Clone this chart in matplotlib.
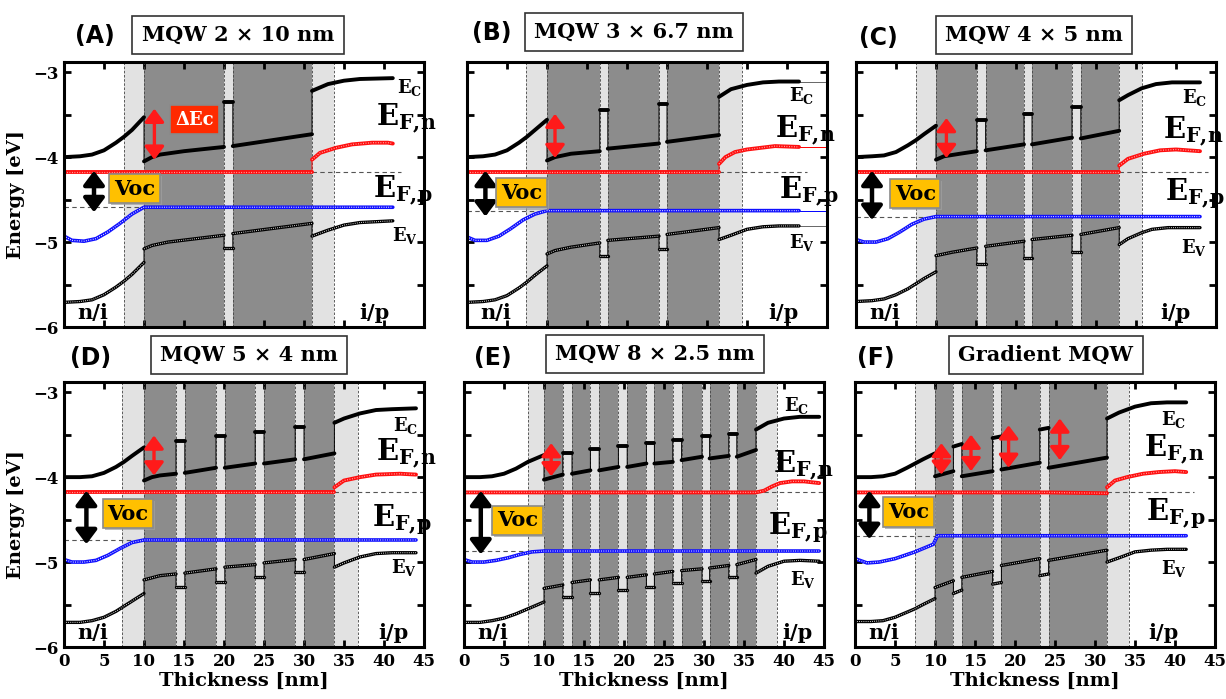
import matplotlib
matplotlib.use("Agg")
import matplotlib.pyplot as plt
from matplotlib.ticker import MultipleLocator

plt.rcParams['font.family'] = ['DejaVu Serif']
plt.rcParams['mathtext.fontset'] = 'dejavuserif'
plt.rcParams['font.weight'] = 'bold'

# ---------------- data (x in nm, E in eV) ----------------
letters = ["(A)", "(B)", "(C)", "(D)", "(E)", "(F)"]
titles = ["MQW 2 × 10 nm", "MQW 3 × 6.7 nm", "MQW 4 × 5 nm",
          "MQW 5 × 4 nm", "MQW 8 × 2.5 nm", "Gradient MQW"]

# (A) 2 x 10 nm
A_span = (7.5, 33.75)
A_wells = [(10.0, 20.0), (21.1, 31.0)]
A_ec = [(0, -4.00), (2, -3.99), (3.5, -3.97), (5, -3.92), (6.5, -3.83), (7.5, -3.76), (8.5, -3.68), (10, -3.53),
        (10, -4.05), (11, -4.00), (12, -3.97), (15, -3.93), (20, -3.88),
        (20, -3.35), (21.1, -3.35),
        (21.1, -3.87), (31, -3.73),
        (31, -3.22), (33, -3.14), (35, -3.10), (37, -3.08), (41.1, -3.07)]
A_ev = [(0, -5.71), (2, -5.70), (3.5, -5.68), (5, -5.62), (6.5, -5.53), (7.5, -5.46), (8.5, -5.38), (10, -5.24),
        (10, -5.08), (11, -5.04), (13, -5.00), (20, -4.92),
        (20, -5.07), (21.1, -5.07),
        (21.1, -4.90), (31, -4.78),
        (31, -4.93), (33, -4.86), (35, -4.80), (37, -4.77), (41.1, -4.75)]
A_efn = [(0, -4.18), (31, -4.18), (31, -4.03), (32, -3.95), (34, -3.89), (36, -3.85), (38.5, -3.83), (40.5, -3.83), (41.1, -3.84)]
A_efp = [(0, -4.93), (1, -4.98), (2.5, -4.99), (4, -4.96), (5.5, -4.88), (7, -4.78), (8.5, -4.67), (10, -4.59), (41.1, -4.59)]

# (B) 3 x 6.7 nm
B_span = (7.4, 34.4)
B_wells = [(10.0, 16.6), (17.6, 24.0), (25.0, 31.5)]
B_ec = [(0, -4.00), (2, -3.99), (3.5, -3.97), (5, -3.92), (6.5, -3.83), (7.5, -3.76), (8.5, -3.68), (10, -3.56),
        (10, -4.04), (11, -4.00), (13, -3.96), (16.6, -3.93),
        (16.6, -3.45), (17.6, -3.45),
        (17.6, -3.90), (24, -3.84),
        (24, -3.37), (25, -3.37),
        (25, -3.82), (31.5, -3.74),
        (31.5, -3.29), (33, -3.20), (35, -3.15), (37, -3.12), (39, -3.11), (41.5, -3.11)]
B_ev = [(0, -5.71), (2, -5.70), (3.5, -5.68), (5, -5.63), (6.5, -5.54), (7.5, -5.47), (8.5, -5.39), (10, -5.28),
        (10, -5.14), (11, -5.10), (13, -5.06), (16.6, -5.01),
        (16.6, -5.16), (17.6, -5.16),
        (17.6, -4.98), (24, -4.93),
        (24, -5.08), (25, -5.08),
        (25, -4.91), (31.5, -4.83),
        (31.5, -4.97), (33, -4.92), (35, -4.85), (37, -4.82), (39, -4.81), (41.5, -4.81)]
B_efn = [(0, -4.18), (31.5, -4.18), (31.5, -4.08), (32.3, -4.00), (33.5, -3.94), (35, -3.91), (38.5, -3.87), (41.5, -3.88)]
B_efp = [(0, -4.94), (1, -4.98), (2.5, -4.98), (4, -4.93), (5.5, -4.84), (7, -4.74), (8.5, -4.67), (10, -4.63), (41.5, -4.63)]

# (C) 4 x 5 nm
C_span = (7.5, 35.7)
C_wells = [(10.0, 15.1), (16.2, 21.0), (22.0, 27.0), (28.1, 32.9)]
C_ec = [(0, -4.00), (2, -3.99), (3.5, -3.98), (5, -3.94), (6.5, -3.86), (7.5, -3.80), (8.5, -3.73), (10, -3.63),
        (10, -4.03), (11, -3.99), (13, -3.96), (15.1, -3.93),
        (15.1, -3.56), (16.2, -3.56),
        (16.2, -3.92), (21, -3.85),
        (21, -3.49), (22, -3.49),
        (22, -3.85), (27, -3.77),
        (27, -3.41), (28.1, -3.41),
        (28.1, -3.78), (32.9, -3.69),
        (32.9, -3.33), (34, -3.27), (35.7, -3.19), (37.5, -3.14), (39.5, -3.12), (43, -3.12)]
C_ev = [(0, -5.70), (2, -5.69), (3.5, -5.67), (5, -5.62), (6.5, -5.55), (7.5, -5.49), (8.5, -5.43), (10, -5.35),
        (10, -5.16), (12, -5.12), (15.1, -5.07),
        (15.1, -5.26), (16.2, -5.26),
        (16.2, -5.05), (21, -4.99),
        (21, -5.19), (22, -5.19),
        (22, -4.97), (27, -4.92),
        (27, -5.12), (28.1, -5.12),
        (28.1, -4.91), (32.9, -4.83),
        (32.9, -5.03), (34, -4.96), (35.7, -4.89), (37, -4.85), (39, -4.83), (43, -4.83)]
C_efn = [(0, -4.18), (32.9, -4.18), (32.9, -4.10), (34, -4.02), (36, -3.96), (38, -3.92), (40, -3.91), (43, -3.93)]
C_efp = [(0, -4.97), (1, -5.00), (2.5, -5.00), (4, -4.96), (5.5, -4.88), (7, -4.79), (8.5, -4.73), (10, -4.70), (43, -4.70)]

# (D) 5 x 4 nm
D_span = (7.25, 36.7)
D_wells = [(10.0, 14.0), (15.1, 19.0), (20.1, 23.9), (25.0, 28.9), (30.0, 33.8)]
D_ec = [(0, -4.00), (2, -4.00), (3.5, -3.99), (5, -3.95), (6.5, -3.88), (7.5, -3.82), (8.5, -3.75), (10, -3.65),
        (10, -4.04), (11, -4.00), (12, -3.98), (14, -3.96),
        (14, -3.58), (15.1, -3.58),
        (15.1, -3.95), (19, -3.89),
        (19, -3.51), (20.1, -3.51),
        (20.1, -3.89), (23.9, -3.84),
        (23.9, -3.47), (25, -3.47),
        (25, -3.84), (28.9, -3.79),
        (28.9, -3.41), (30, -3.41),
        (30, -3.79), (33.8, -3.72),
        (33.8, -3.36), (35, -3.31), (37, -3.25), (39, -3.21), (41, -3.20), (44, -3.19)]
D_ev = [(0, -5.71), (2, -5.71), (3.5, -5.69), (5, -5.65), (6.5, -5.58), (7.5, -5.52), (8.5, -5.46), (10, -5.37),
        (10, -5.21), (12, -5.16), (14, -5.14),
        (14, -5.29), (15.1, -5.29),
        (15.1, -5.13), (19, -5.08),
        (19, -5.23), (20.1, -5.23),
        (20.1, -5.06), (23.9, -5.03),
        (23.9, -5.18), (25, -5.18),
        (25, -5.01), (28.9, -4.97),
        (28.9, -5.12), (30, -5.12),
        (30, -4.97), (33.8, -4.90),
        (33.8, -5.06), (35, -5.01), (37, -4.94), (39, -4.90), (41, -4.89), (44, -4.89)]
D_efn = [(0, -4.18), (33.8, -4.18), (33.8, -4.12), (35, -4.04), (37, -4.00), (39, -3.97), (42, -3.96), (44, -3.97)]
D_efp = [(0, -4.97), (1, -5.00), (2.5, -5.00), (4, -4.98), (5.5, -4.92), (7, -4.84), (8.5, -4.77), (10, -4.74), (44, -4.74)]

# (E) 8 x 2.5 nm
E_span = (8.0, 39.1)
E_wells = [(10.0, 12.35), (13.5, 15.8), (16.9, 19.3), (20.4, 22.8),
           (23.8, 26.1), (27.2, 29.75), (30.7, 33.1), (34.1, 36.5)]
E_ec = [(0, -4.00), (2, -4.00), (3.5, -3.99), (5, -3.96), (6.5, -3.90), (8, -3.82), (9, -3.78), (10, -3.74),
        (10, -4.03), (12.35, -3.97), (12.35, -3.72), (13.5, -3.72),
        (13.5, -3.96), (15.8, -3.92), (15.8, -3.67), (16.9, -3.67),
        (16.9, -3.92), (19.3, -3.88), (19.3, -3.63), (20.4, -3.63),
        (20.4, -3.88), (22.8, -3.84), (22.8, -3.60), (23.8, -3.60),
        (23.8, -3.84), (26.1, -3.82), (26.1, -3.56), (27.2, -3.56),
        (27.2, -3.80), (29.75, -3.76), (29.75, -3.52), (30.7, -3.52),
        (30.7, -3.78), (33.1, -3.75), (33.1, -3.49), (34.1, -3.49),
        (34.1, -3.76), (36.5, -3.68),
        (36.5, -3.44), (38, -3.36), (40, -3.31), (42, -3.29), (44.4, -3.29)]
E_ev = [(0, -5.71), (2, -5.71), (3.5, -5.69), (5, -5.66), (6.5, -5.61), (8, -5.55), (9, -5.51), (10, -5.47),
        (10, -5.31), (12.35, -5.27), (12.35, -5.41), (13.5, -5.41),
        (13.5, -5.24), (15.8, -5.21), (15.8, -5.37), (16.9, -5.37),
        (16.9, -5.21), (19.3, -5.18), (19.3, -5.33), (20.4, -5.33),
        (20.4, -5.18), (22.8, -5.15), (22.8, -5.29), (23.8, -5.29),
        (23.8, -5.14), (26.1, -5.11), (26.1, -5.25), (27.2, -5.25),
        (27.2, -5.10), (29.75, -5.08), (29.75, -5.22), (30.7, -5.22),
        (30.7, -5.07), (33.1, -5.04), (33.1, -5.18), (34.1, -5.18),
        (34.1, -5.03), (36.5, -4.97),
        (36.5, -5.13), (38, -5.05), (40, -4.99), (42, -4.98), (44.4, -4.99)]
E_efn = [(0, -4.18), (36.5, -4.18), (37.5, -4.16), (38.5, -4.11), (39.5, -4.07), (41, -4.05), (42.5, -4.05), (44.4, -4.07)]
E_efp = [(0, -4.97), (1, -5.00), (2.5, -5.00), (4, -4.98), (5.5, -4.95), (7, -4.91), (8.5, -4.88), (10, -4.87), (44.4, -4.87)]

# (F) gradient MQW
F_span = (7.5, 34.2)
F_wells = [(10.0, 12.3), (13.35, 17.2), (18.3, 23.1), (24.2, 31.5)]
F_ec = [(0, -4.00), (2, -4.00), (3.5, -3.99), (5, -3.96), (6.5, -3.89), (7.5, -3.84), (8.5, -3.79), (10, -3.72),
        (10, -3.99), (12.3, -3.93), (12.3, -3.64), (13.35, -3.61),
        (13.35, -3.99), (17.2, -3.93), (17.2, -3.54), (18.3, -3.52),
        (18.3, -3.91), (23.1, -3.83), (23.1, -3.44), (24.2, -3.42),
        (24.2, -3.89), (31.5, -3.77),
        (31.5, -3.31), (33, -3.24), (35, -3.17), (37, -3.13), (39, -3.12), (41.4, -3.12)]
F_ev = [(0, -5.70), (2, -5.70), (3.5, -5.69), (5, -5.65), (6.5, -5.59), (7.5, -5.55), (8.5, -5.50), (10, -5.43),
        (10, -5.30), (12.3, -5.22), (12.3, -5.37), (13.35, -5.33),
        (13.35, -5.18), (17.2, -5.11), (17.2, -5.26), (18.3, -5.24),
        (18.3, -5.04), (23.1, -4.96), (23.1, -5.16), (24.2, -5.14),
        (24.2, -4.98), (31.5, -4.86),
        (31.5, -5.00), (33, -4.95), (35, -4.88), (37, -4.86), (39, -4.85), (41.4, -4.85)]
F_efn = [(0, -4.18), (24, -4.18), (31.5, -4.19), (31.5, -4.12), (32.5, -4.04), (34, -4.00), (36, -3.96), (38, -3.94), (40, -3.93), (41.4, -3.94)]
F_efp = [(0, -4.96), (1.5, -5.01), (3, -5.00), (5, -4.96), (7.5, -4.88), (9.8, -4.79), (10.3, -4.69), (41.4, -4.69)]

# delta-Ec arrows (x, top, bottom) and Voc arrows (x, top, bottom)
A_dec = [(11.3, -3.43, -4.03)]
B_dec = [(11.0, -3.49, -4.01)]
C_dec = [(11.3, -3.54, -4.01)]
D_dec = [(11.25, -3.51, -3.98)]
E_dec = [(10.9, -3.60, -3.99)]
F_dec = [(10.8, -3.60, -3.97), (14.5, -3.50, -3.93), (19.2, -3.39, -3.89), (25.6, -3.31, -3.80)]
voc_arrows = [(3.75, -4.16, -4.65), (2.3, -4.16, -4.70), (2.0, -4.16, -4.74),
              (2.8, -4.16, -4.79), (2.1, -4.16, -4.91), (1.8, -4.16, -4.73)]

# ---------------- layout (pixels of the 1226x699 canvas) ----------------
W, H = 1226, 699
ax_px = [(64, 62), (467, 62), (856, 62), (64, 382), (464, 382), (855, 382)]
ax_w, ax_h = 360, 265
title_px = [(238, 35), (634, 32), (1034, 35), (249, 355), (655, 354), (1046, 355)]
letter_px = [(95, 36), (492, 33), (878, 38), (91, 358), (493, 358), (876, 358)]
voc_box = [(8.8, -4.37), (6.8, -4.42), (7.4, -4.43), (8.0, -4.43), (6.7, -4.51), (6.7, -4.41)]
lab_ec = [(41.6, -3.18), (40.2, -3.27), (40.7, -3.30), (41.1, -3.39), (40.0, -3.16), (38.3, -3.32)]
lab_efn = [(39.0, -3.55), (38.5, -3.69), (38.4, -3.70), (39.0, -3.73), (38.6, -3.86), (36.1, -3.68)]
lab_efp = [(38.6, -4.39), (39.0, -4.41), (38.6, -4.43), (38.5, -4.50), (38.0, -4.59), (36.4, -4.43)]
lab_ev = [(41.0, -4.92), (40.3, -5.01), (40.6, -5.06), (40.9, -5.06), (40.7, -5.20), (38.2, -5.07)]
ip_x = [38.8, 39.6, 39.9, 41.2, 41.7, 38.6]

LIGHT = '#e2e2e2'
DARK = '#8c8c8c'


def band(ax, pts, color, lw, dot=None):
    ax.plot([p[0] for p in pts], [p[1] for p in pts], color=color, lw=0.7, zorder=4)
    segs, cur = [], [pts[0]]
    for p in pts[1:]:
        if p[0] == cur[-1][0]:
            segs.append(cur)
            cur = [p]
        else:
            cur.append(p)
    segs.append(cur)
    for s in segs:
        sx = [p[0] for p in s]
        sy = [p[1] for p in s]
        ax.plot(sx, sy, color=color, lw=lw, solid_capstyle='round', zorder=5)
        if dot:
            ax.plot(sx, sy, color=dot, lw=lw * 0.32, ls=(0, (0.7, 1.3)), zorder=6)


def dbl_arrow(ax, x, y0, y1, color, lw, scale):
    ax.annotate('', xy=(x, y1), xytext=(x, y0),
                arrowprops=dict(arrowstyle='<|-|>,head_length=0.6,head_width=0.45',
                                color=color, lw=lw, mutation_scale=scale,
                                shrinkA=0, shrinkB=0), zorder=8)


panels = [
    (A_span, A_wells, A_ec, A_ev, A_efn, A_efp, A_dec),
    (B_span, B_wells, B_ec, B_ev, B_efn, B_efp, B_dec),
    (C_span, C_wells, C_ec, C_ev, C_efn, C_efp, C_dec),
    (D_span, D_wells, D_ec, D_ev, D_efn, D_efp, D_dec),
    (E_span, E_wells, E_ec, E_ev, E_efn, E_efp, E_dec),
    (F_span, F_wells, F_ec, F_ev, F_efn, F_efp, F_dec),
]

fig = plt.figure(figsize=(W / 100, H / 100), dpi=100)

for i, (span, wells, ec, ev, efn, efp, dec) in enumerate(panels):
    px, py = ax_px[i]
    ax = fig.add_axes([px / W, 1 - (py + ax_h) / H, ax_w / W, ax_h / H])
    ax.set_xlim(0, 45)
    ax.set_ylim(-6, -2.88)

    # layers
    ax.axvspan(span[0], span[1], color=LIGHT, lw=0, zorder=0)
    for w0, w1 in wells:
        ax.axvspan(w0, w1, color=DARK, lw=0, zorder=1)
    edges = [span[0], span[1]] + [w for pair in wells for w in pair]
    for xe in edges:
        ax.axvline(xe, color='#444444', lw=0.6, ls=(0, (3, 2)), zorder=2)

    # reference dashed lines at the quasi-Fermi levels
    x_end = ec[-1][0]
    ax.plot([wells[-1][1], min(x_end + 1, 45)], [efn[0][1], efn[0][1]],
            color='#555555', lw=0.8, ls=(0, (4, 3)), zorder=3)
    ax.plot([0, 10], [efp[-1][1], efp[-1][1]], color='#555555', lw=0.8, ls=(0, (4, 3)), zorder=3)

    if i == 1:  # thin continuation lines in panel B
        for pts, c in [(ec, '#666666'), (ev, '#666666'), (efn, 'red'), (efp, 'blue')]:
            ax.plot([pts[-1][0], 45], [pts[-1][1], pts[-1][1]], color=c, lw=0.7, zorder=3)

    band(ax, efp, '#1010ff', 2.6, dot='white')
    band(ax, efn, '#ff1010', 2.8, dot='#ffb0b0')
    band(ax, ev, 'black', 2.4, dot='white')
    band(ax, ec, 'black', 2.8)

    for x, y0, y1 in dec:
        dbl_arrow(ax, x, y0, y1, '#ff1a1a', 2.4, 13)
    x, y0, y1 = voc_arrows[i]
    dbl_arrow(ax, x, y0, y1, 'black', 3.2, 14)

    vx, vy = voc_box[i]
    ax.text(vx + 0.25, vy - 0.025, 'Voc', fontsize=15, fontweight='bold', ha='center', va='center',
            zorder=8.5, color='#b0b0b0',
            bbox=dict(boxstyle='square,pad=0.22', fc='#a0a0a0', ec='none', alpha=0.7))
    ax.text(vx, vy, 'Voc', fontsize=15, fontweight='bold', ha='center', va='center', zorder=9,
            bbox=dict(boxstyle='square,pad=0.22', fc='#ffc000', ec='#8a8a8a', lw=1.2))
    if i == 0:
        ax.text(16.3, -3.56, 'ΔEc', fontsize=13, fontweight='bold', color='white',
                ha='center', va='center', zorder=9,
                bbox=dict(boxstyle='square,pad=0.3', fc='#ff2a00', ec='#8a8a8a', lw=1.2))

    ax.text(*lab_ec[i], r'E$_{\mathbf{C}}$', fontsize=13, ha='left', va='center', zorder=9, clip_on=False)
    ax.text(*lab_efn[i], r'E$_{\mathbf{F{,}n}}$', fontsize=21, ha='left', va='center', zorder=9, clip_on=False)
    ax.text(*lab_efp[i], r'E$_{\mathbf{F{,}p}}$', fontsize=21, ha='left', va='center', zorder=9, clip_on=False)
    ax.text(*lab_ev[i], r'E$_{\mathbf{V}}$', fontsize=13, ha='left', va='center', zorder=9, clip_on=False)
    ax.text(3.6, -5.84, 'n/i', fontsize=15, ha='center', va='center', zorder=9)
    ax.text(ip_x[i], -5.84, 'i/p', fontsize=15, ha='center', va='center', zorder=9)

    # axes styling
    for sp in ax.spines.values():
        sp.set_linewidth(2.2)
        sp.set_zorder(10)
    ax.xaxis.set_major_locator(MultipleLocator(5))
    ax.yaxis.set_major_locator(MultipleLocator(1))
    ax.yaxis.set_minor_locator(MultipleLocator(0.5))
    ax.tick_params(which='both', direction='in', top=True, right=True, length=5, width=2,
                   labelsize=12, pad=4)
    ax.tick_params(which='minor', length=5, width=2)
    if i % 3 == 0:
        ax.set_ylabel('Energy [eV]', fontsize=14, fontweight='bold', labelpad=6)
    else:
        ax.tick_params(labelleft=False)
    if i >= 3:
        ax.set_xlabel('Thickness [nm]', fontsize=14, fontweight='bold', labelpad=2)
    else:
        ax.tick_params(labelbottom=False)

    tx, ty = title_px[i]
    fig.text(tx / W, 1 - ty / H, titles[i], fontsize=15, fontweight='bold', ha='center', va='center',
             bbox=dict(boxstyle='square,pad=0.45', fc='white', ec='#333333', lw=1.2))
    lx, ly = letter_px[i]
    fig.text(lx / W, 1 - ly / H, letters[i], fontsize=17, fontweight='bold', ha='center', va='center',
             family=['DejaVu Sans'])

fig.savefig('out.png', dpi=100)
